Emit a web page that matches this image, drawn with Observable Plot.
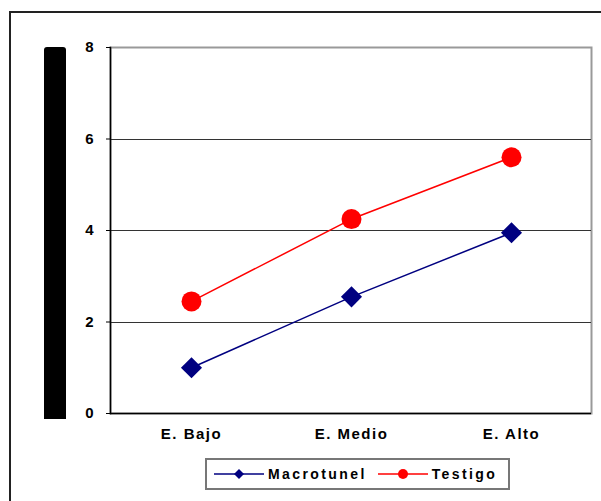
<!DOCTYPE html>
<html>
<head>
<meta charset="utf-8">
<script src="https://cdn.jsdelivr.net/npm/d3@7"></script>
<script src="https://cdn.jsdelivr.net/npm/@observablehq/plot@0.6"></script>
<style>
  html, body { margin: 0; padding: 0; background: #fff; }
  #wrap { position: relative; width: 601px; height: 501px; overflow: hidden; background: #fff; font-family: "Liberation Sans", Arial, sans-serif; }
  #chart { position: absolute; left: 0; top: 0; }
  #bar { position: absolute; left: 44px; top: 47px; width: 22px; height: 372px; background: #000; border-radius: 3px 3px 0 0; }
  #frame { position: absolute; left: 9px; top: 11px; width: 620px; height: 520px; border: 2px solid #222; box-sizing: border-box; background: transparent; pointer-events: none; }
  #legend { position: absolute; left: 205px; top: 458px; width: 305px; height: 32px; box-sizing: border-box; background: #fff;
            border: 2px solid #777; display: flex; align-items: center; padding-left: 6px;
            font-weight: bold; font-size: 14px; letter-spacing: 2.4px; color: #000; }
  #legend .item { display: flex; align-items: center; margin-right: 10px; }
  #legend svg { margin-right: 3px; }
</style>
</head>
<body>
<div id="wrap">
  <div id="chart"></div>
  <div id="bar"></div>
  <div id="legend"></div>
  <div id="frame"></div>
</div>
<script>
const categories = ["E. Bajo", "E. Medio", "E. Alto"];
const macrotunel = [1.0, 2.55, 3.95];
const testigo = [2.45, 4.25, 5.6];
const yTicks = [0, 2, 4, 6, 8];
const seriesNames = ["Macrotunel", "Testigo"];
const seriesColors = ["#000080", "#ff0000"];

const rowsM = categories.map((c, i) => ({cat: c, value: macrotunel[i]}));
const rowsT = categories.map((c, i) => ({cat: c, value: testigo[i]}));

const chart = Plot.plot({
  width: 601,
  height: 501,
  marginLeft: 110,
  marginRight: 10,
  marginTop: 47,
  marginBottom: 88,
  style: {fontFamily: "Liberation Sans, Arial, sans-serif", background: "transparent", overflow: "visible"},
  x: {type: "band", domain: categories, padding: 0, label: null},
  y: {domain: [0, 8], label: null},
  marks: [
    Plot.frame({stroke: "#999", strokeWidth: 2}),
    Plot.ruleY(yTicks.filter(t => t > 0 && t < 8), {stroke: "#333", strokeWidth: 1, shapeRendering: "crispEdges"}),
    Plot.ruleY([0], {stroke: "#000", strokeWidth: 1.5}),
    Plot.frame({anchor: "left", stroke: "#000", strokeWidth: 1.5}),
    Plot.axisY({ticks: yTicks, tickSize: 4, tickPadding: 13, fontSize: 15, fontWeight: "bold", stroke: "#000", label: null}),
    Plot.axisX({tickSize: 0, tickPadding: 15, fontSize: 15, fontWeight: "bold", label: null}),
    Plot.line(rowsT, {x: "cat", y: "value", stroke: seriesColors[1], strokeWidth: 1.5}),
    Plot.line(rowsM, {x: "cat", y: "value", stroke: seriesColors[0], strokeWidth: 1.5}),
    Plot.dot(rowsT, {x: "cat", y: "value", r: 10, fill: seriesColors[1], symbol: "circle"}),
    Plot.dot(rowsM, {x: "cat", y: "value", r: 9.5, fill: seriesColors[0], symbol: "diamond2"})
  ]
});
// wider letter spacing on category labels
chart.querySelectorAll("g[aria-label='x-axis tick label'] text").forEach(t => t.setAttribute("letter-spacing", "1.5"));
document.getElementById("chart").appendChild(chart);

// legend
const legend = document.getElementById("legend");
const ns = "http://www.w3.org/2000/svg";
seriesNames.forEach((name, i) => {
  const item = document.createElement("div");
  item.className = "item";
  const svg = document.createElementNS(ns, "svg");
  svg.setAttribute("width", 52); svg.setAttribute("height", 14);
  const line = document.createElementNS(ns, "line");
  line.setAttribute("x1", 1); line.setAttribute("x2", 51);
  line.setAttribute("y1", 7); line.setAttribute("y2", 7);
  line.setAttribute("stroke", seriesColors[i]); line.setAttribute("stroke-width", 1.5);
  svg.appendChild(line);
  if (i === 0) {
    const p = document.createElementNS(ns, "path");
    p.setAttribute("d", "M26,2L31,7L26,12L21,7Z");
    p.setAttribute("fill", seriesColors[i]);
    svg.appendChild(p);
  } else {
    const c = document.createElementNS(ns, "circle");
    c.setAttribute("cx", 26); c.setAttribute("cy", 7); c.setAttribute("r", 5);
    c.setAttribute("fill", seriesColors[i]);
    svg.appendChild(c);
  }
  item.appendChild(svg);
  const label = document.createElement("span");
  label.textContent = name;
  item.appendChild(label);
  legend.appendChild(item);
});
</script>
</body>
</html>
